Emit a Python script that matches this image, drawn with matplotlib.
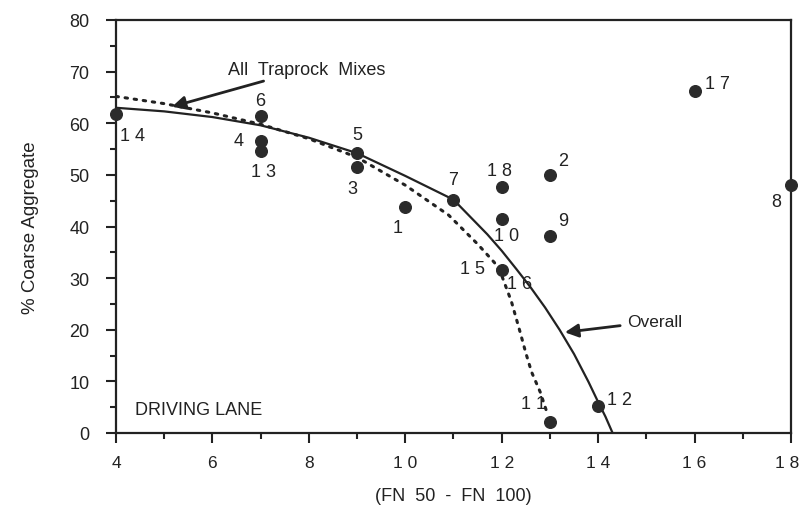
import matplotlib
matplotlib.use('Agg')
from matplotlib import pyplot as plt
from matplotlib.ticker import MultipleLocator
from matplotlib.transforms import ScaledTranslation

plt.rcParams['font.family'] = ['Liberation Sans', 'DejaVu Sans']

# data
pt_ids = ['14', '6', '4', '13', '5', '3', '1', '7', '18', '10', '15', '2', '9', '11', '12', '17', '8']
pt_x = [4, 7, 7, 7, 9, 9, 10, 11, 12, 12, 12, 13, 13, 13, 14, 16, 18]
pt_y = [61.8, 61.4, 56.6, 54.7, 54.2, 51.5, 43.7, 45.2, 47.7, 41.5, 31.5, 50.0, 38.2, 2.2, 5.2, 66.2, 48.1]

overall_x = [4, 5, 6, 7, 8, 9, 10, 11, 11.7, 12.0, 12.3, 12.6, 12.9, 13.2, 13.5, 13.8, 14.0, 14.15, 14.3]
overall_y = [63, 62.3, 61.2, 59.6, 57.2, 54.2, 49.8, 45.2, 38.5, 35.3, 31.8, 28.2, 24.3, 20.0, 15.3, 9.9, 6.0, 3.2, 0]

traprock_x = [4, 5, 6, 7, 8, 9, 10, 10.9, 11.5, 11.85, 12.0, 12.2, 12.38, 12.5, 12.62, 12.8, 12.92]
traprock_y = [65.2, 63.8, 62, 59.8, 57, 53.4, 48, 42.2, 36.6, 33.0, 30.5, 25.5, 19.6, 15.5, 11.8, 7.9, 4.5]

# label text and offsets (pixels) for each point label
labels = {'14': '1 4', '6': '6', '4': '4', '13': '1 3', '5': '5', '3': '3', '1': '1',
          '7': '7', '18': '1 8', '10': '1 0', '15': '1 5', '2': '2', '9': '9',
          '11': '1 1', '12': '1 2', '17': '1 7', '8': '8'}
offsets = {'14': (16, -22), '6': (0, 16), '4': (-22, 0), '13': (3, -21), '5': (0, 19),
           '3': (-5, -21), '1': (-8, -20), '7': (0, 20), '18': (-2, 16), '10': (5, -17),
           '15': (-29, 2), '2': (13, 14), '9': (13, 15), '11': (-16, 18), '12': (21, 7),
           '17': (23, 8), '8': (-15, -17)}

x_ticks = [4, 6, 8, 10, 12, 14, 16, 18]
x_ticklabels = ['4', '6', '8', '1 0', '1 2', '1 4', '1 6', '1 8']
y_ticks = [0, 10, 20, 30, 40, 50, 60, 70, 80]

ink = '#222222'

fig = plt.figure(figsize=(8.01, 5.10), dpi=100)
ax = fig.add_axes([116 / 801, 1 - 434 / 510, 675 / 801, 413 / 510])

ax.plot(overall_x, overall_y, color=ink, lw=1.6, zorder=2)
ax.plot(traprock_x, traprock_y, color=ink, lw=2.2, linestyle=(0, (0.8, 2.2)),
        dash_capstyle='round', zorder=2)

ax.scatter(pt_x, pt_y, s=70, color='#2b2b2b', zorder=3, clip_on=False)

for pid, x, y in zip(pt_ids, pt_x, pt_y):
    ax.annotate(labels[pid], (x, y), xytext=offsets[pid], textcoords='offset pixels',
                ha='center', va='center', fontsize=13, color=ink)

# the second label on point 15
ax.annotate('1 6', (12, 31.5), xytext=(18, -13), textcoords='offset pixels',
            ha='center', va='center', fontsize=13, color=ink)

ax.annotate('All  Traprock  Mixes', xy=(5.16, 63.2), xytext=(6.32, 70.5),
            ha='left', va='center', fontsize=13, color=ink,
            arrowprops=dict(arrowstyle='-|>', color=ink, lw=2, mutation_scale=20,
                            shrinkA=2, shrinkB=0))
ax.annotate('Overall', xy=(13.31, 19.5), xytext=(14.6, 21.6),
            ha='left', va='center', fontsize=12.5, color=ink,
            arrowprops=dict(arrowstyle='-|>', color=ink, lw=2, mutation_scale=20,
                            shrinkA=3, shrinkB=0))

ax.text(4.39, 4.5, 'DRIVING LANE', fontsize=13, color=ink, ha='left', va='center')

ax.set_xlim(4, 18)
ax.set_ylim(0, 80)
ax.set_xticks(x_ticks)
ax.set_xticklabels(x_ticklabels)
ax.set_yticks(y_ticks)
ax.xaxis.set_minor_locator(MultipleLocator(1))
ax.yaxis.set_minor_locator(MultipleLocator(5))
ax.tick_params(which='major', direction='out', length=7, width=1.5, labelsize=12.5,
               colors=ink, pad=9)
ax.tick_params(which='minor', direction='out', length=4, width=1.5, colors=ink)
ax.tick_params(axis='y', pad=12, labelsize=13)

# keep the last x tick label inside the picture
last = ax.get_xticklabels()[-1]
last.set_transform(last.get_transform() + ScaledTranslation(-4 / 100, 0, fig.dpi_scale_trans))

for s in ax.spines.values():
    s.set_linewidth(1.6)
    s.set_color(ink)

ax.set_xlabel('(FN  50  -  FN  100)', fontsize=13, color=ink, labelpad=12)
ax.set_ylabel('% Coarse Aggregate', fontsize=13.5, color=ink, labelpad=22)

fig.savefig('out.png', dpi=100, facecolor='white')
